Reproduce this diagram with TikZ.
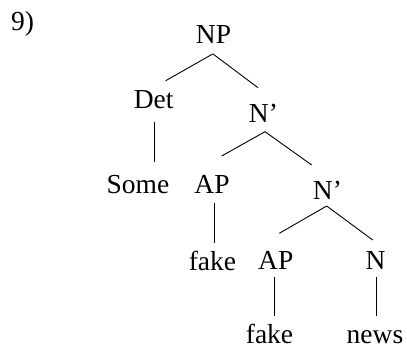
\documentclass[tikz,border=0pt]{standalone}
\usepackage{fontspec}
\setmainfont{Liberation Serif}
\usetikzlibrary{calc}
\begin{document}
\begin{tikzpicture}[x=1pt,y=1pt,
  lbl/.style={anchor=base,inner sep=0pt,font=\fontsize{27.5}{30}\selectfont},
  edge/.style={line width=0.9pt,black}]
\useasboundingbox (0,0) rectangle (407,347);
% labels, placed by their baselines
\node[lbl,anchor=base west] (num) at (11,316) {9)};
\node[lbl] (np)    at (213.5,303) {NP};
\node[lbl] (det)   at (153.7,238) {Det};
\node[lbl] (nbar1) at (263.5,224) {N’};
\node[lbl] (some)  at (138,153)   {Some};
\node[lbl] (ap1)   at (212,153)   {AP};
\node[lbl] (nbar2) at (327.5,147) {N’};
\node[lbl] (fake1) at (212.5,76.5){fake};
\node[lbl] (ap2)   at (275.8,77)  {AP};
\node[lbl] (n)     at (375.5,77)  {N};
\node[lbl] (fake2) at (269.5,3.5) {fake};
\node[lbl] (news)  at (375,3.5)   {news};
% branches
\draw[edge] ($(np.base)+(-0.8,-10)$)   -- ($(det.base)+(12,28.3)$);
\draw[edge] ($(np.base)+(-0.5,-10)$)   -- ($(nbar1.base)+(-5.5,35.3)$);
\draw[edge] ($(det.base)+(0.6,-13)$)   -- ($(some.base)+(16.3,32.3)$);
\draw[edge] ($(nbar1.base)+(1.5,-8.7)$) -- ($(ap1.base)+(9.7,38)$);
\draw[edge] ($(nbar1.base)+(1.5,-8.7)$) -- ($(nbar2.base)+(-15.8,35)$);
\draw[edge] ($(ap1.base)+(2.3,-9)$)    -- ($(fake1.base)+(1.8,27.5)$);
\draw[edge] ($(nbar2.base)+(-0.8,-6)$) -- ($(ap2.base)+(3.5,36.7)$);
\draw[edge] ($(nbar2.base)+(-0.8,-6)$) -- ($(n.base)+(-2.8,30)$);
\draw[edge] ($(ap2.base)+(-1.8,-6.7)$) -- ($(fake2.base)+(4.5,27.8)$);
\draw[edge] ($(n.base)+(0.5,-7)$)      -- ($(news.base)+(1,27.8)$);
\end{tikzpicture}
\end{document}
